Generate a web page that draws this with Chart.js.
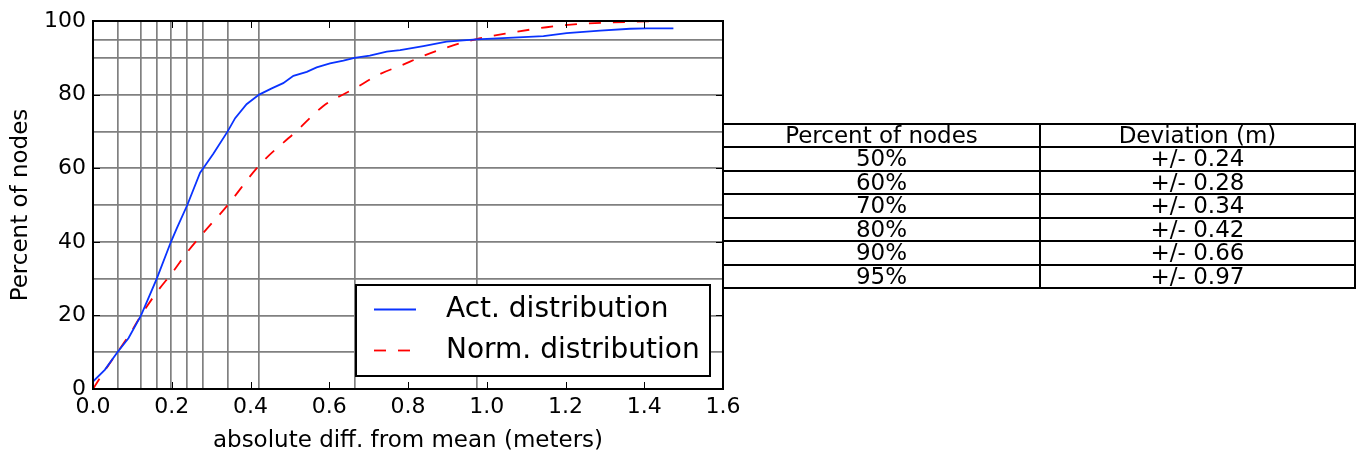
<!DOCTYPE html>
<html>
<head>
<meta charset="utf-8">
<title>Node deviation distribution</title>
<script src="https://cdn.jsdelivr.net/npm/chart.js@4/dist/chart.umd.min.js"></script>
<style>
  html, body { margin: 0; padding: 0; background: #fff; }
  #wrap { position: relative; width: 1361px; height: 456px; overflow: hidden; }
  #chart { position: absolute; left: 0; top: 0; }
  #devTable { position: absolute; left: 0; top: 0; width: 1361px; height: 456px; pointer-events: none;
              font-family: "DejaVu Sans", sans-serif; font-size: 23px; color: #000; }
  .rule { position: absolute; background: #000; }
  .cell { position: absolute; text-align: center; white-space: nowrap; }
</style>
</head>
<body>
<div id="wrap">
  <canvas id="chart" width="1361" height="456"></canvas>
  <div id="devTable"></div>
</div>
<script>
// Measured cumulative distribution of absolute deviation from the mean
const actDev = [0, 0.03, 0.062, 0.09, 0.122, 0.162, 0.198, 0.213, 0.2395, 0.272, 0.28, 0.306, 0.342, 0.361, 0.39, 0.422,
                0.454, 0.483, 0.509, 0.543, 0.568, 0.602, 0.636, 0.664, 0.703, 0.746, 0.78, 0.839, 0.898, 0.974,
                1.067, 1.144, 1.203, 1.288, 1.364, 1.406, 1.474];
const actPct = [2.0, 5.2, 10, 13.8, 20, 30, 40, 43.7, 50, 58.8, 60, 64.0, 70, 73.6, 77.4, 80,
                81.7, 83.1, 85.1, 86.2, 87.4, 88.5, 89.2, 90, 90.6, 91.7, 92.1, 93.2, 94.4, 95,
                95.5, 95.9, 96.7, 97.4, 97.9, 98.0, 98.0];

// Reference normal distribution (cumulative, absolute deviation)
const normDev = [0, 0.03, 0.062, 0.094, 0.119, 0.162, 0.204, 0.238, 0.28, 0.34, 0.424, 0.517, 0.585, 0.665,
                 0.729, 0.78, 0.839, 0.898, 0.974, 1.067, 1.152, 1.237, 1.321, 1.406, 1.474];
const normPct = [0, 5.0, 10.0, 15.0, 19.5, 26.3, 32.0, 37.0, 42.4, 49.7, 61.0, 70.1, 76.9, 81.7,
                 85.6, 87.8, 90.5, 92.8, 95.1, 96.9, 98.3, 99.2, 99.6, 99.9, 100];

// Percent-of-nodes levels and the deviation reached at each level
const percentLevels = [10, 20, 30, 40, 50, 60, 70, 80, 90, 95];
const levelDeviation = [0.062, 0.122, 0.162, 0.198, 0.2395, 0.280, 0.342, 0.422, 0.664, 0.974];
const tableLevels = [50, 60, 70, 80, 90, 95];

// Axis tick labels
const xTickValues = [0, 0.2, 0.4, 0.6, 0.8, 1.0, 1.2, 1.4, 1.6];
const yTickValues = [0, 20, 40, 60, 80, 100];

const FONT = 'DejaVu Sans';
const GRID = '#808080';
const NONE = 'rgba(0,0,0,0)';

const toPoints = (xs, ys) => xs.map((x, i) => ({ x: x, y: ys[i] }));

// Frame, inward tick marks and the in-plot legend
const frameAndLegend = {
  id: 'frameAndLegend',
  afterDatasetsDraw(chart) {
    const { ctx, chartArea: a, scales } = chart;
    const xs = scales.x, ys = scales.y;
    ctx.save();
    ctx.strokeStyle = '#000';
    ctx.lineWidth = 1;
    ctx.beginPath();
    xTickValues.forEach(v => {
      const px = Math.round(xs.getPixelForValue(v)) + 0.5;
      ctx.moveTo(px, a.bottom); ctx.lineTo(px, a.bottom - 7);
      ctx.moveTo(px, a.top); ctx.lineTo(px, a.top + 7);
    });
    yTickValues.forEach(v => {
      const py = Math.round(ys.getPixelForValue(v)) + 0.5;
      ctx.moveTo(a.left, py); ctx.lineTo(a.left + 7, py);
      ctx.moveTo(a.right, py); ctx.lineTo(a.right - 7, py);
    });
    ctx.stroke();

    // legend box in the lower right of the plot
    const w = 354, h = 91;
    const x0 = a.right - 13 - w, y0 = a.bottom - 13 - h;
    ctx.fillStyle = '#fff';
    ctx.fillRect(x0, y0, w, h);
    ctx.lineWidth = 2;
    ctx.strokeStyle = '#000';
    ctx.strokeRect(x0, y0, w, h);
    chart.data.datasets.forEach((ds, i) => {
      const y = Math.round(y0 + 23.5 + i * 41.5) + 0.5;
      ctx.beginPath();
      ctx.setLineDash(ds.borderDash || []);
      ctx.strokeStyle = ds.borderColor;
      ctx.lineWidth = ds.borderWidth;
      ctx.moveTo(x0 + 18, y);
      ctx.lineTo(x0 + 60, y);
      ctx.stroke();
      ctx.setLineDash([]);
      ctx.fillStyle = '#000';
      ctx.font = '28px "' + FONT + '"';
      ctx.textBaseline = 'middle';
      ctx.textAlign = 'left';
      ctx.fillText(ds.label, x0 + 90, y);
    });

    // axes frame
    ctx.lineWidth = 2;
    ctx.strokeStyle = '#000';
    ctx.strokeRect(a.left, a.top, a.right - a.left, a.bottom - a.top);
    ctx.restore();
  }
};

const chart = new Chart(document.getElementById('chart'), {
  type: 'line',
  data: {
    datasets: [
      {
        label: 'Act. distribution',
        data: toPoints(actDev, actPct),
        borderColor: '#0a33ff',
        borderWidth: 1.8,
        pointRadius: 0,
        fill: false,
        tension: 0
      },
      {
        label: 'Norm. distribution',
        data: toPoints(normDev, normPct),
        borderColor: '#ff0000',
        borderWidth: 1.8,
        borderDash: [12, 12],
        pointRadius: 0,
        fill: false,
        cubicInterpolationMode: 'monotone'
      }
    ]
  },
  options: {
    responsive: false,
    animation: false,
    devicePixelRatio: 1,
    layout: { padding: { left: 0, top: 21, right: 638, bottom: 0 } },
    plugins: { legend: { display: false }, tooltip: { enabled: false } },
    scales: {
      x: {
        type: 'linear',
        min: 0,
        max: 1.6,
        afterBuildTicks: s => {
          s.ticks = xTickValues.concat(levelDeviation).sort((p, q) => p - q).map(v => ({ value: v }));
        },
        afterFit: s => { s.height = 67; },
        ticks: {
          autoSkip: false,
          maxRotation: 0,
          padding: 5,
          color: '#000',
          font: { family: FONT, size: 22 },
          callback: v => xTickValues.includes(v) ? v.toFixed(1) : ''
        },
        grid: {
          drawTicks: false,
          lineWidth: 1.7,
          color: c => (c.tick && levelDeviation.includes(c.tick.value)) ? GRID : NONE
        },
        border: { display: false },
        title: {
          display: true,
          text: 'absolute diff. from mean (meters)',
          color: '#000',
          font: { family: FONT, size: 23 },
          padding: { top: 0, bottom: 1 }
        }
      },
      y: {
        type: 'linear',
        min: 0,
        max: 100,
        afterBuildTicks: s => {
          const vals = yTickValues.concat(percentLevels.filter(p => !yTickValues.includes(p)));
          s.ticks = vals.sort((p, q) => p - q).map(v => ({ value: v }));
        },
        afterFit: s => { s.width = 93; },
        ticks: {
          autoSkip: false,
          padding: 7,
          color: '#000',
          font: { family: FONT, size: 22 },
          callback: v => yTickValues.includes(v) ? String(v) : ''
        },
        grid: {
          drawTicks: false,
          lineWidth: 1.7,
          color: c => (c.tick && percentLevels.includes(c.tick.value)) ? GRID : NONE
        },
        border: { display: false },
        title: {
          display: true,
          text: 'Percent of nodes',
          color: '#000',
          font: { family: FONT, size: 23 },
          padding: { top: 7, bottom: 0 }
        }
      }
    }
  },
  plugins: [frameAndLegend]
});

// Deviation table beside the plot
(function buildTable() {
  const host = document.getElementById('devTable');
  const top = 124, bottom = 288, left = 723, right = 1355, split = 1040;
  const rows = [['Percent of nodes', 'Deviation (m)']].concat(
    tableLevels.map(p => [p + '%', '+/- ' + levelDeviation[percentLevels.indexOf(p)].toFixed(2)])
  );
  const rowH = (bottom - top) / rows.length;
  const add = (cls, css, text) => {
    const d = document.createElement('div');
    d.className = cls;
    Object.assign(d.style, css);
    if (text !== undefined) d.textContent = text;
    host.appendChild(d);
  };
  for (let i = 0; i <= rows.length; i++) {
    const y = Math.round(top + i * rowH) - 1;
    add('rule', { left: left + 'px', top: y + 'px', width: (right - left + 1) + 'px', height: '2px' });
  }
  [left, split, right].forEach(x => {
    add('rule', { left: (x - 1) + 'px', top: (top - 1) + 'px', width: '2px', height: (bottom - top + 2) + 'px' });
  });
  rows.forEach((r, i) => {
    const y = top + i * rowH;
    add('cell', { left: left + 'px', top: y + 'px', width: (split - left) + 'px', height: rowH + 'px', lineHeight: rowH + 'px' }, r[0]);
    add('cell', { left: split + 'px', top: y + 'px', width: (right - split) + 'px', height: rowH + 'px', lineHeight: rowH + 'px' }, r[1]);
  });
})();
</script>
</body>
</html>
